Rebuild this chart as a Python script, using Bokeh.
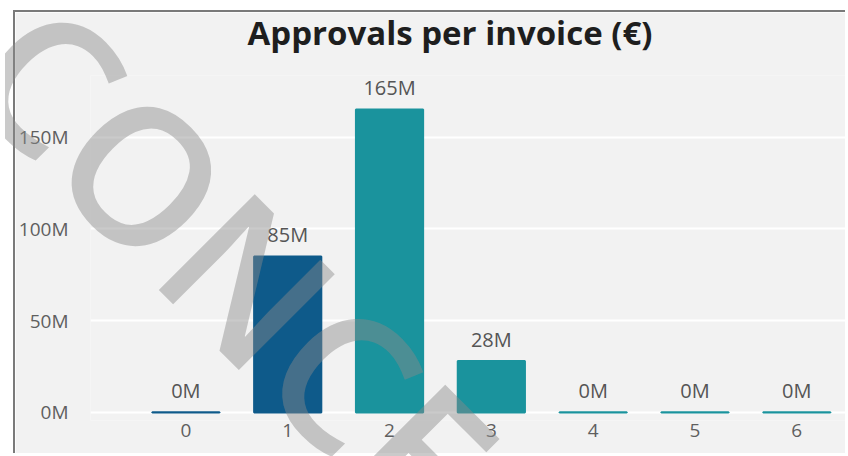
from bokeh.plotting import figure
from bokeh.models import ColumnDataSource, Range1d, FixedTicker, Div
from bokeh.layouts import column
from bokeh.embed import file_html
from bokeh.resources import INLINE
from bokeh.core.properties import value

# ---- data ----
title_text = "Approvals per invoice (€)"
categories = [0, 1, 2, 3, 4, 5, 6]
values_m = [0.2, 85, 165, 28, 0.2, 0.2, 0.2]   # millions of €
bar_colors = ["#0e5a8a", "#0e5a8a", "#1a939d", "#1a939d", "#1a939d", "#1a939d", "#1a939d"]
y_ticks = [0, 50, 100, 150]
y_tick_labels = ["0M", "50M", "100M", "150M"]
watermark = "CONCEPT"

labels = [f"{v:.0f}M" for v in values_m]
src = ColumnDataSource(dict(x=categories, top=values_m, color=bar_colors, label=labels))

BG = "#f2f2f2"
FONT = "Open Sans"

p = figure(width=832, height=443, output_backend="svg", toolbar_location=None,
           x_range=Range1d(-0.937, 6.498), y_range=Range1d(-4.36, 183.5),
           min_border_left=70, min_border_right=0, min_border_top=63, min_border_bottom=35)
p.styles = {"margin-left": "13px", "margin-top": "10px",
            "border-left": "2px solid #7a7a7a", "border-top": "2px solid #7a7a7a"}
p.background_fill_color = BG
p.border_fill_color = BG
p.outline_line_color = None

p.vbar(x="x", top="top", width=0.66, fill_color="color", line_color="color",
       line_width=2, source=src)
p.text(x="x", y="top", text="label", source=src, text_align="center",
       text_baseline="bottom", y_offset=-8, text_font=value(FONT),
       text_font_size="20px", text_color="#555555")

# axes
p.xaxis.ticker = FixedTicker(ticks=categories)
p.yaxis.ticker = FixedTicker(ticks=y_ticks)
p.yaxis.major_label_overrides = {t: l for t, l in zip(y_ticks, y_tick_labels)}
for ax in (p.xaxis[0], p.yaxis[0]):
    ax.axis_line_color = None
    ax.major_tick_line_color = None
    ax.minor_tick_line_color = None
    ax.major_label_text_font = FONT
    ax.major_label_text_font_size = "19px"
    ax.major_label_text_color = "#5f5f5f"
p.xaxis.major_label_standoff = -3
p.yaxis.major_label_standoff = 16

p.xgrid.grid_line_color = None
p.ygrid.grid_line_color = "white"
p.ygrid.grid_line_width = 2

# title + watermark overlay
overlay_html = (
    '<div style="position:absolute; left:45px; top:8px; width:800px; text-align:center;'
    ' font-family:\'Open Sans\'; font-size:33px; font-weight:bold; line-height:40px;'
    ' color:#1e1e1e; white-space:nowrap;">' + title_text + '</div>'
    '<div style="position:absolute; left:2px; top:-65px; font-family:\'Open Sans\';'
    ' font-size:190px; font-weight:600; line-height:190px; color:rgba(138,138,138,0.45);'
    ' white-space:nowrap; transform:rotate(45deg); transform-origin:0 50%;">'
    + watermark + '</div>'
)
wm = Div(width=848, height=456,
         styles={"position": "absolute", "left": "0px", "top": "0px", "overflow": "hidden",
                 "pointer-events": "none", "z-index": "5"},
         text=overlay_html)

layout = column(p, wm)
open("out.html", "w").write(file_html(layout, INLINE))
